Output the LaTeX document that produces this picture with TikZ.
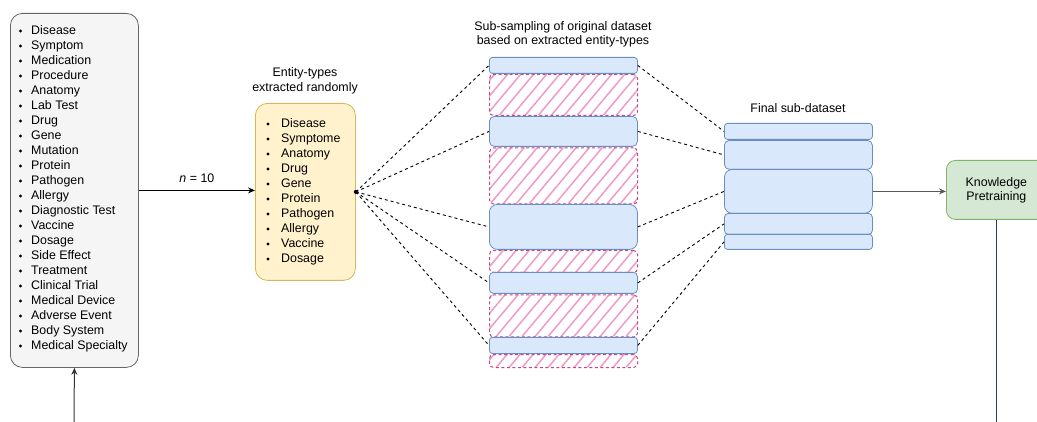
\documentclass[tikz,border=0pt]{standalone}
\usepackage{fontspec}
\setmainfont{Liberation Sans}
\usetikzlibrary{arrows.meta}

\definecolor{grayfill}{HTML}{F5F5F5}
\definecolor{graystroke}{HTML}{666666}
\definecolor{yellowfill}{HTML}{FFF2CC}
\definecolor{yellowstroke}{HTML}{D6B656}
\definecolor{bluefill}{HTML}{DAE8FC}
\definecolor{bluestroke}{HTML}{6C8EBF}
\definecolor{greenfill}{HTML}{D5E8D4}
\definecolor{greenstroke}{HTML}{82B366}
\definecolor{hatchpink}{HTML}{F09AC8}
\definecolor{hatchborder}{HTML}{C8467F}
\definecolor{darkline}{HTML}{2E3F55}

\tikzset{
  box/.style={anchor=north west, inner sep=0pt, line width=0.8pt},
  listbox/.style={box, draw=graystroke, fill=grayfill, rounded corners=12pt},
  pickbox/.style={box, draw=yellowstroke, fill=yellowfill, rounded corners=12pt},
  slab/.style={box, draw=bluestroke, fill=bluefill, minimum width=148pt},
  hatchbox/.style={box, draw=hatchborder, line width=1pt, dash pattern=on 3pt off 2.5pt,
    minimum width=148pt, rounded corners=4pt},
  hatchline/.style={hatchpink, line width=1.5pt},
  trainbox/.style={box, draw=greenstroke, fill=greenfill, rounded corners=9pt,
    align=center, font=\fontsize{12.4}{14}\selectfont},
  entry/.style={anchor=west, inner sep=0pt, text height=8.8pt, text depth=2.5pt,
    font=\fontsize{12.4}{14}\selectfont},
  caption/.style={align=center, inner sep=0pt, font=\fontsize{12.4}{14.5}\selectfont},
  dot/.style={circle, fill=black, inner sep=0pt, minimum size=3.4pt},
  link/.style={black, line width=0.9pt, dash pattern=on 3pt off 3pt},
  flow/.style={line width=1pt, -{Stealth[length=7pt, width=6pt]}},
}

\begin{document}
\begin{tikzpicture}[x=1pt, y=-1pt]
\useasboundingbox (0,0) rectangle (1037,422);

% full list of entity types
\node[listbox, minimum width=128pt, minimum height=354pt] (lbox) at (10,13) {};
\foreach \t [count=\i] in {Disease, Symptom, Medication, Procedure, Anatomy,
    Lab Test, Drug, Gene, Mutation, Protein, Pathogen, Allergy,
    Diagnostic Test, Vaccine, Dosage, Side Effect, Treatment, Clinical Trial,
    Medical Device, Adverse Event, Body System, Medical Specialty} {
  \node[dot] (lb\i) at (20.5, {31+15*(\i-1)}) {};
  \node[entry] (lt\i) at (31, {31+15*(\i-1)}) {\t};
}

% randomly picked entity types
\node[caption] (pickcap) at (305,81) {Entity-types\\extracted randomly};
\node[pickbox, minimum width=100pt, minimum height=177pt] (ybox) at (255,103) {};
\foreach \t [count=\i] in {Disease, Symptome, Anatomy, Drug, Gene, Protein,
    Pathogen, Allergy, Vaccine, Dosage} {
  \node[dot] (yb\i) at (268, {124+15*(\i-1)}) {};
  \node[entry] (yt\i) at (281, {124+15*(\i-1)}) {\t};
}

% sub-sampled dataset: discarded (hatched) parts
\node[caption] (subcap) at (563,34.5) {Sub-sampling of original dataset\\based on extracted entity-types};
\foreach \n/\y/\hh in {h1/74/41, h2/147.5/56, h3/250/22, h4/294.5/42, h5/354/13} {
  \begin{scope}
    \clip[rounded corners=4pt] (489,\y) rectangle ++(148,\hh);
    \foreach \s in {0,13,...,442}
      \draw[hatchline] ({489-268+\s}, 370) -- ++(268,-320);
  \end{scope}
  \node[hatchbox, minimum height=\hh pt] (\n) at (489,\y) {};
}

% kept slabs
\node[slab, minimum height=16pt, rounded corners=3pt] (m1) at (489,57) {};
\node[slab, minimum height=30pt, rounded corners=5pt] (m2) at (489,116) {};
\node[slab, minimum height=45pt, rounded corners=8pt] (m3) at (489,204) {};
\node[slab, minimum height=21pt, rounded corners=4pt] (m4) at (489,272) {};
\node[slab, minimum height=16pt, rounded corners=3pt] (m5) at (489,337) {};

% final stacked sub-dataset
\node[caption] (fincap) at (798,108) {Final sub-dataset};
\node[slab, minimum height=16pt, rounded corners=3pt] (f1) at (724,123) {};
\node[slab, minimum height=29pt, rounded corners=5pt] (f2) at (724,140) {};
\node[slab, minimum height=44pt, rounded corners=8pt] (f3) at (724,169) {};
\node[slab, minimum height=21pt, rounded corners=4pt] (f4) at (724,213) {};
\node[slab, minimum height=15pt, rounded corners=3pt] (f5) at (724,234) {};

% pretraining step
\node[trainbox, minimum width=100pt, minimum height=59pt] (kp) at (946,160)
  {Knowledge\\Pretraining};

% connectors
\coordinate (inlet) at (74,422);
\coordinate (outlet) at (996,422);
\draw[flow, draw=black!80] (inlet) -- (lbox.south);
\draw[flow, draw=black] (lbox.east) -- node[above=7pt, inner sep=0pt,
  font=\fontsize{12.4}{14}\selectfont] {\textit{n} = 10} (lbox.east -| ybox.west);
\node[dot, minimum size=4pt] (src) at (ybox.east) {};
\foreach \k in {1,...,5} {
  \draw[link] (src.center) -- (m\k.west);
  \draw[link] (m\k.east) -- (f\k.west);
}
\draw[flow, draw=black!65, line width=1.5pt] (f3.east) -- (f3.east -| kp.west);
\draw[darkline, line width=1pt] (kp.south -| outlet) -- (outlet);
\end{tikzpicture}
\end{document}
